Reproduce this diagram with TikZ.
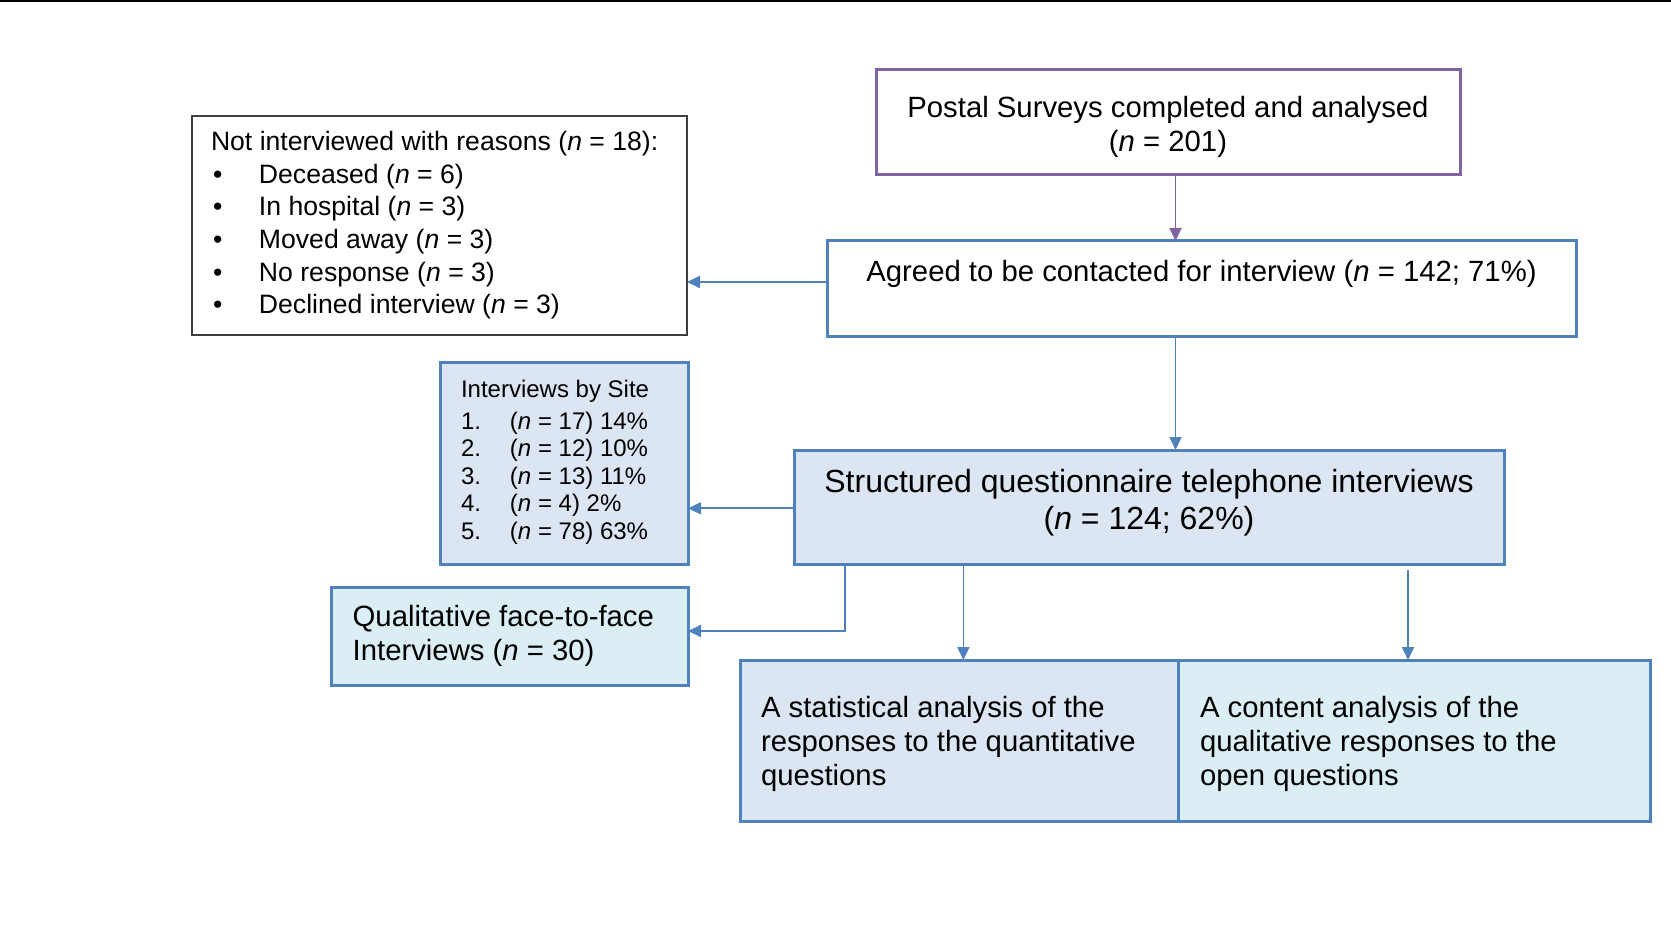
\documentclass[tikz,border=0pt]{standalone}
\usepackage{fontspec}
\setmainfont{Liberation Sans}
\usetikzlibrary{arrows.meta}
\definecolor{accent}{HTML}{4F81BD}
\definecolor{violetline}{HTML}{8064A2}
\definecolor{paleblue}{HTML}{DCE6F2}
\definecolor{palecyan}{HTML}{DAEEF3}
\definecolor{framegray}{HTML}{3F3F3F}

\begin{document}
\begin{tikzpicture}[x=1pt,y=-1pt,
  box/.style={draw=accent, line width=3pt, inner sep=0pt, outer sep=0pt},
  plainbox/.style={draw=framegray, line width=1.3pt, inner sep=0pt, outer sep=0pt, fill=white},
  purplebox/.style={draw=violetline, line width=3pt, inner sep=0pt, outer sep=0pt, fill=white},
  txt/.style={inner sep=0pt, outer sep=0pt, font=\fontsize{29.3}{34}\selectfont},
  bigtxt/.style={inner sep=0pt, outer sep=0pt, font=\fontsize{32}{37}\selectfont},
  listtxt/.style={inner sep=0pt, outer sep=0pt, font=\fontsize{26.6}{32.6}\selectfont},
  sitetxt/.style={inner sep=0pt, outer sep=0pt, font=\fontsize{24}{27.5}\selectfont},
  arr/.style={draw=accent, line width=1.8pt, -{Triangle[length=13pt,width=12pt]}},
  purplearr/.style={draw=violetline, line width=1.8pt, -{Triangle[length=13pt,width=12pt]}}
]
\useasboundingbox (0,0) rectangle (1671,928);

% rule across the top of the page
\draw[line width=2pt] (0,1) -- (1671,1);

% boxes
\node[purplebox, minimum width=584pt, minimum height=105pt] (postal) at (1168,122.5) {};
\node[box, fill=white, minimum width=749pt, minimum height=95pt] (agreed) at (1201.5,288.5) {};
\node[plainbox, minimum width=495pt, minimum height=219pt] (notint) at (439.5,225.5) {};
\node[box, fill=paleblue, minimum width=248pt, minimum height=202pt] (sites) at (564,463) {};
\node[box, fill=paleblue, minimum width=710pt, minimum height=114pt] (phone) at (1149,507) {};
\node[box, fill=palecyan, minimum width=357pt, minimum height=98pt] (qual) at (509.5,636) {};
\node[box, fill=paleblue, minimum width=438pt, minimum height=161pt] (stat) at (959,740.5) {};
\node[box, fill=palecyan, minimum width=472pt, minimum height=161pt] (content) at (1414,740.5) {};

% texts
\node[txt, align=center] (postaltext) at (1168,126.8)
  {Postal Surveys completed and analysed\\(\textit{n} = 201)};
\node[txt] (agreedtext) at (1201.5,274.1)
  {Agreed to be contacted for interview (\textit{n} = 142; 71\%)};
\node[listtxt, align=left, anchor=west] (notinttext) at (211,225.4)
  {Not interviewed with reasons (\textit{n} = 18):\\
   \hspace*{2pt}\makebox[46pt][l]{\textbullet}Deceased (\textit{n} = 6)\\
   \hspace*{2pt}\makebox[46pt][l]{\textbullet}In hospital (\textit{n} = 3)\\
   \hspace*{2pt}\makebox[46pt][l]{\textbullet}Moved away (\textit{n} = 3)\\
   \hspace*{2pt}\makebox[46pt][l]{\textbullet}No response (\textit{n} = 3)\\
   \hspace*{2pt}\makebox[46pt][l]{\textbullet}Declined interview (\textit{n} = 3)};
\node[sitetxt, align=left, anchor=west] (sitestext) at (461,462.1)
  {Interviews by Site\\[4.5pt]
   \makebox[49pt][l]{1.}(\textit{n} = 17) 14\%\\
   \makebox[49pt][l]{2.}(\textit{n} = 12) 10\%\\
   \makebox[49pt][l]{3.}(\textit{n} = 13) 11\%\\
   \makebox[49pt][l]{4.}(\textit{n} = 4) 2\%\\
   \makebox[49pt][l]{5.}(\textit{n} = 78) 63\%};
\node[bigtxt, align=center] (phonetext) at (1149,502.4)
  {Structured questionnaire telephone interviews\\(\textit{n} = 124; 62\%)};
\node[txt, align=left, anchor=west] (qualtext) at (352.7,636.1)
  {Qualitative face-to-face\\Interviews (\textit{n} = 30)};
\node[txt, align=left, anchor=west] (stattext) at (761,743.8)
  {A statistical analysis of the\\responses to the quantitative\\questions};
\node[txt, align=left, anchor=west] (contenttext) at (1200,743.8)
  {A content analysis of the\\qualitative responses to the\\open questions};

% connectors
\draw[purplearr] ([xshift=7.5pt]postal.south) -- ([xshift=7.5pt]postal.south |- agreed.north);
\draw[arr] ([yshift=6.5pt]agreed.west) -- ([yshift=6.5pt]agreed.west -| notint.east);
\draw[arr] ([xshift=-26pt]agreed.south) -- ([xshift=-26pt]agreed.south |- phone.north);
\draw[arr] ([yshift=-1.3pt]phone.west) -- ([yshift=-1.3pt]phone.west -| sites.east);
\draw[arr] ([xshift=-304pt]phone.south) |- ([yshift=5pt]qual.east);
\draw[arr] ([xshift=-185.6pt]phone.south) -- ([xshift=-185.6pt]phone.south |- stat.north);
\path ([xshift=-6pt]content.north) coordinate (cn);
\path (cn |- phone.south) ++(0,6) coordinate (csrc);
\draw[arr] (csrc) -- (cn);
\end{tikzpicture}
\end{document}
